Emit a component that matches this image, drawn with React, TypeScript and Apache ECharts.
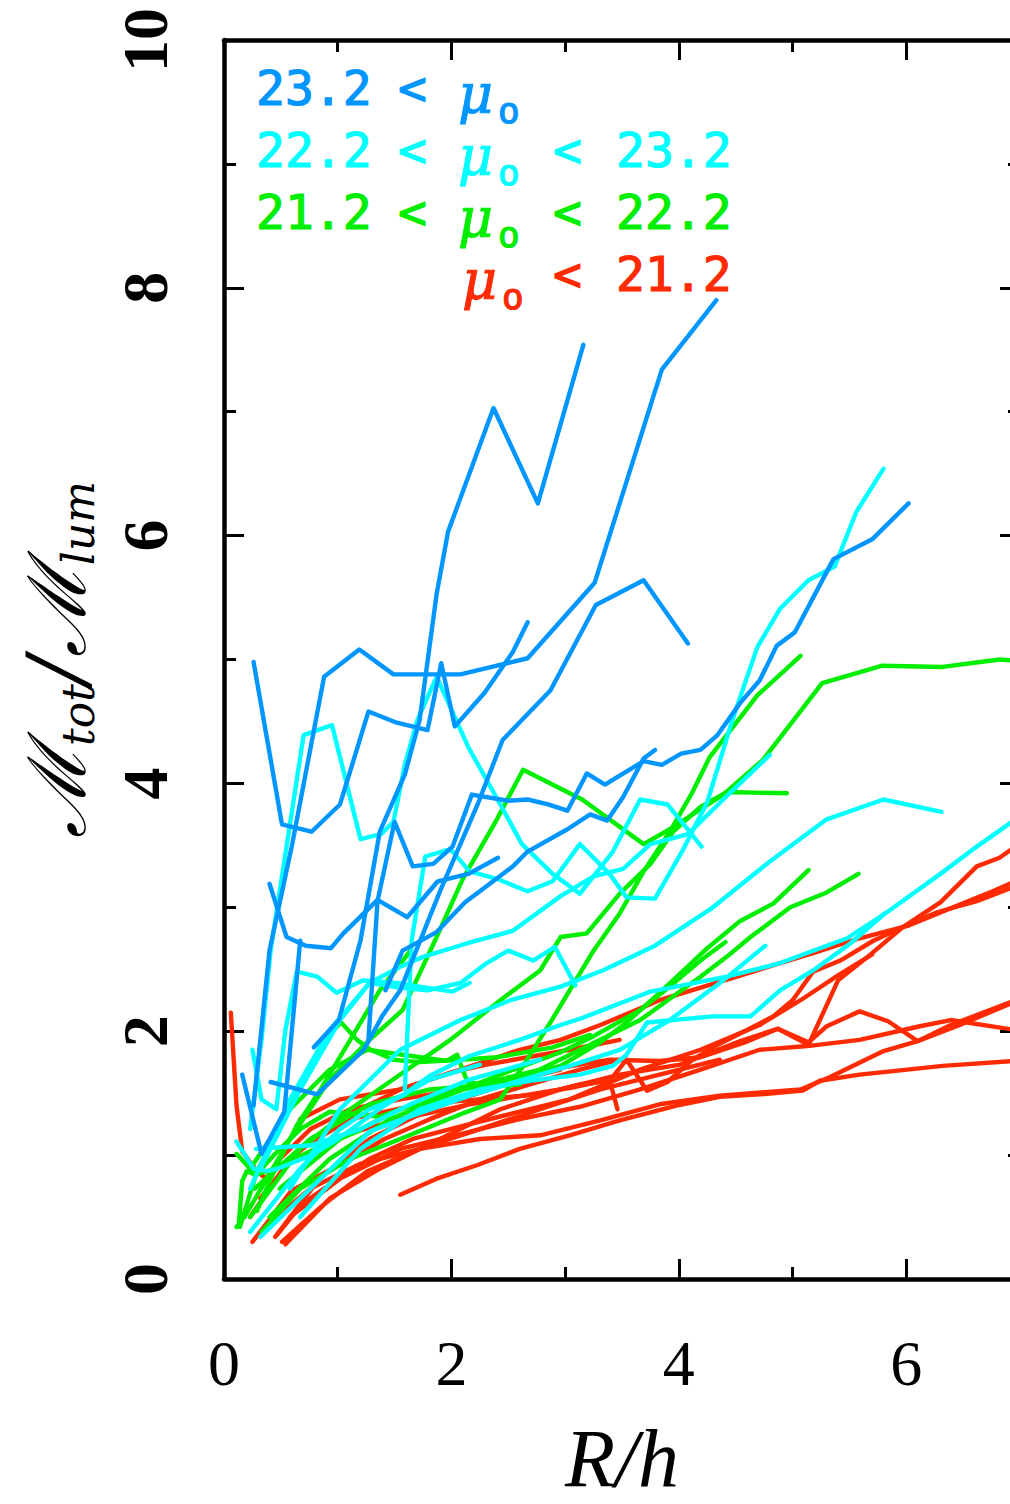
import React, { useEffect, useRef } from 'react';
import * as echarts from 'echarts';

const BLUE = '#0096ff';
const CYAN = '#00ffff';
const GREEN = '#00ee00';
const RED = '#ff2a00';

// axis ranges
const X_MIN = 0, X_MAX = 7, X_STEP = 2;
const Y_MIN = 0, Y_MAX = 10, Y_STEP = 2;

// ---------- blue: 23.2 < mu_o ----------
const b1 = [[0.26,1.40],[0.40,2.65],[0.60,3.51],[0.88,4.86],[1.19,5.08],[1.49,4.88],[2.08,4.88],[2.67,5.01],[3.26,5.62],[3.85,7.34],[4.33,7.90]];
const b2 = [[0.79,1.87],[1.01,2.09],[1.20,2.73],[1.37,3.61],[1.59,4.07],[1.72,4.51],[1.87,5.53],[1.97,6.03],[2.37,7.03],[2.76,6.26],[3.16,7.54]];
const b3 = [[0.26,4.98],[0.51,3.67],[0.77,3.61],[1.02,3.83],[1.27,4.58],[1.52,4.49],[1.79,4.43],[1.91,4.97],[2.03,4.46],[2.29,4.73],[2.54,5.06],[2.67,5.30]];
const b4 = [[0.41,1.59],[0.82,1.49],[1.23,1.85],[1.39,2.12],[1.55,2.33],[1.90,3.13],[2.23,3.83],[2.45,4.35],[2.87,4.75],[3.27,5.44],[3.69,5.64],[4.08,5.13]];
const b5 = [[1.27,1.93],[1.35,3.05],[1.50,3.69],[1.66,3.33],[1.84,3.35],[2.01,3.49],[2.18,3.91],[2.50,3.86],[2.67,3.87],[2.85,3.83],[3.02,3.78],[3.19,4.08],[3.35,3.99],[3.69,4.18],[3.85,4.15],[4.02,4.24],[4.19,4.27],[4.34,4.39],[4.54,4.65],[4.71,4.83],[4.86,5.11],[5.02,5.22],[5.36,5.81],[5.70,5.97],[6.02,6.26]];
const b6 = [[1.42,2.33],[1.57,2.65],[1.87,2.80],[2.12,3.04],[2.25,3.13],[2.54,3.33],[2.67,3.45],[3.02,3.63],[3.22,3.75],[3.37,3.70],[3.51,3.89],[3.69,4.20],[3.79,4.27]];
const b7 = [[0.40,3.19],[0.55,2.76],[0.72,2.69],[0.94,2.67],[1.05,2.79],[1.35,3.06],[1.61,2.92],[1.88,3.21],[2.15,3.27],[2.41,3.40]];
const b8 = [[0.16,1.65],[0.33,1.01],[0.53,1.35],[0.63,2.33],[0.67,2.73]];
const blueLines = [b1, b2, b3, b4, b5, b6, b7, b8];

// ---------- cyan: 22.2 < mu_o < 23.2 ----------
const c1 = [[1.59,1.53],[1.65,2.73],[1.77,3.41],[1.99,3.47],[2.16,3.29],[2.40,3.23],[2.67,3.13],[2.89,3.21],[3.13,3.51],[3.39,3.27],[3.54,3.08],[3.79,3.07],[4.04,3.47],[4.25,3.85],[4.47,4.51],[4.69,5.10],[4.89,5.41],[5.14,5.64],[5.37,5.75],[5.56,6.19],[5.80,6.54]];
const c2 = [[0.58,0.73],[1.02,1.37],[1.55,1.85],[2.08,2.09],[2.52,2.25],[2.96,2.36],[3.33,2.49],[3.79,2.69],[4.30,3.00],[4.80,3.37],[5.30,3.71],[5.80,3.87],[6.31,3.77]];
const c3 = [[0.23,0.38],[0.67,0.89],[1.02,1.21],[1.28,1.37],[1.57,1.48],[1.81,1.64],[2.16,1.80],[2.60,1.93],[2.96,2.05],[3.16,2.11],[3.75,2.32],[4.42,2.44],[4.89,2.55],[5.48,2.75],[5.83,2.96],[6.30,3.27],[6.62,3.49],[6.93,3.69]];
const c4 = [[0.67,0.50],[1.20,1.05],[1.72,1.37],[2.25,1.53],[2.69,1.60],[3.13,1.65],[3.42,1.72],[3.54,1.81],[3.72,2.07],[3.95,2.09],[4.30,2.12],[4.63,2.12],[4.89,2.33],[5.18,2.49],[5.51,2.71],[5.81,2.95]];
const c5 = [[0.32,0.34],[0.76,0.73],[1.28,1.19],[1.57,1.29],[2.16,1.48],[2.63,1.61],[3.04,1.72],[3.48,1.85],[3.92,2.09],[4.39,2.41],[4.76,2.69]];
const c6 = [[0.23,1.21],[0.33,1.93],[0.41,2.65],[0.70,4.39],[0.95,4.47],[1.20,3.55],[1.38,3.59],[1.49,3.69],[1.59,4.15],[1.70,4.51],[1.87,4.86],[2.15,4.29],[2.43,3.83],[2.62,3.51],[2.89,3.27],[3.13,3.11],[3.42,3.45],[3.66,3.87],[3.90,3.83],[4.20,3.49]];
const c7 = [[0.32,0.89],[0.67,1.53],[1.02,2.09],[1.28,2.39],[1.55,2.52],[1.75,2.60],[2.14,2.71],[2.54,2.81],[2.96,3.09],[3.25,3.25],[3.51,3.31],[3.75,3.51],[4.08,3.59],[4.39,3.87],[4.80,4.23]];
const c8 = [[0.23,0.73],[0.58,1.45],[0.93,2.01],[1.28,2.39],[1.55,2.35],[1.79,2.33],[2.08,2.39],[2.31,2.55],[2.50,2.65],[2.72,2.57],[2.91,2.68],[3.09,2.37]];
const c9 = [[0.11,1.11],[0.26,0.89],[0.38,0.87],[0.47,0.89],[0.77,1.00],[0.97,1.11],[1.41,1.40],[1.81,1.61],[2.25,1.73]];
const c10 = [[0.25,1.85],[0.33,1.45],[0.46,1.37],[0.54,2.01],[0.64,2.48],[0.82,2.44],[0.99,2.31],[1.22,2.41],[1.52,2.39],[1.72,2.36],[2.01,2.32],[2.16,2.39]];
const c11 = [[0.28,1.05],[0.77,1.08],[1.20,1.21],[1.64,1.41],[2.16,1.61],[2.78,1.77]];
const cyanLines = [c1, c2, c3, c4, c5, c6, c7, c8, c9, c10, c11];

// ---------- green: 21.2 < mu_o < 22.2 ----------
const g1 = [[0.18,0.50],[0.58,1.13],[0.93,1.61],[1.28,1.93],[1.57,2.17],[1.87,2.76],[2.10,3.23],[2.40,3.71],[2.63,4.11],[3.15,3.87],[3.69,3.51],[3.92,3.63],[4.39,3.91],[4.74,4.19],[5.26,4.81],[5.79,4.95],[6.32,4.94],[6.82,5.00],[6.96,4.99]];
const g2 = [[0.33,0.38],[0.67,0.73],[1.11,0.97],[1.55,1.13],[2.08,1.33],[2.43,1.45],[2.63,1.72],[2.87,2.07],[3.04,2.33],[3.25,2.65],[3.48,2.95],[3.69,3.29],[3.92,3.61],[4.12,3.93],[4.27,4.21],[4.69,4.71],[5.07,5.03]];
const g3 = [[0.23,0.50],[0.67,1.05],[1.11,1.37],[1.55,1.65],[1.99,1.93],[2.43,2.25],[2.78,2.49],[2.96,2.76],[3.19,2.79],[3.48,3.11],[3.75,3.35],[3.95,3.61],[4.19,3.81],[4.42,3.93],[4.95,3.92]];
const g4 = [[0.40,0.50],[0.93,0.97],[1.46,1.29],[1.99,1.49],[2.43,1.65],[2.96,1.83],[3.25,1.96],[3.66,2.17],[3.92,2.36],[4.19,2.57],[4.41,2.72]];
const g5 = [[0.27,0.73],[0.76,1.13],[1.28,1.41],[1.81,1.53],[2.34,1.57],[2.96,1.72],[3.31,1.91],[3.54,2.07],[3.83,2.31],[4.04,2.49],[4.25,2.67],[4.54,2.89],[4.83,3.03],[5.14,3.30]];
const g6 = [[0.49,0.73],[1.02,1.13],[1.55,1.37],[2.08,1.53],[2.60,1.61],[3.13,1.85],[3.66,2.09],[4.19,2.44],[4.42,2.60],[4.63,2.76],[4.98,3.00],[5.30,3.12],[5.58,3.27]];
const g7 = [[0.14,0.42],[0.29,0.87],[0.59,1.40],[0.88,1.93],[1.03,2.07],[1.17,1.93],[1.29,1.85],[1.49,1.77],[1.72,1.75],[2.08,1.77],[2.40,1.79],[2.89,1.87],[3.22,1.97]];
const g8 = [[0.23,0.89],[0.58,1.37],[0.93,1.69],[1.26,1.85],[1.57,1.81],[1.96,1.76],[2.05,1.81],[2.14,1.59],[2.34,1.56],[2.60,1.57]];
const g9 = [[0.11,0.42],[0.13,0.44],[0.16,0.79],[0.20,0.87],[0.28,0.84],[0.45,1.01],[0.67,1.21],[0.93,1.35],[1.37,1.31],[1.81,1.45],[2.25,1.57],[2.78,1.69]];
const g10 = [[0.11,1.01],[0.28,0.84],[0.44,0.89],[0.80,1.05],[1.20,1.20]];
const g11 = [[0.29,0.55],[0.44,0.87],[0.64,1.24],[0.85,1.53],[1.11,1.93],[1.37,2.33],[1.64,2.65]];
const greenLines = [g1, g2, g3, g4, g5, g6, g7, g8, g9, g10, g11];

// ---------- red: mu_o < 21.2 ----------
const r1 = [[0.06,2.15],[0.11,1.40],[0.16,1.03],[0.29,0.87],[0.37,0.81],[0.49,0.97],[0.76,1.21],[1.11,1.37],[1.55,1.45],[2.08,1.53],[2.60,1.61],[2.96,1.69]];
const r2 = [[0.45,0.34],[0.84,0.81],[1.28,1.13],[1.81,1.37],[2.34,1.53],[2.87,1.69],[3.39,1.77],[3.83,1.76],[4.19,1.79],[4.58,1.91],[4.87,2.02],[5.14,1.89],[5.40,2.41],[5.66,2.60],[5.97,2.84],[6.30,3.04],[6.62,3.33],[6.82,3.40],[6.96,3.49]];
const r3 = [[0.23,0.50],[0.58,0.97],[1.02,1.29],[1.55,1.53],[2.08,1.69],[2.60,1.85],[2.96,1.93],[3.31,2.05],[3.83,2.25],[4.51,2.44],[4.89,2.55],[5.18,2.63],[5.59,2.75],[6.01,2.85],[6.76,3.13],[6.96,3.21]];
const r4 = [[0.32,0.65],[0.67,1.05],[1.11,1.29],[1.72,1.41],[2.25,1.45],[2.78,1.49],[3.13,1.57],[3.39,1.60],[3.54,1.77],[3.72,1.52],[3.90,1.59],[4.12,1.77],[4.34,1.89],[4.60,2.01],[4.83,2.12],[5.00,2.25],[5.18,2.48],[5.42,2.57],[5.71,2.73],[5.97,2.84],[6.27,2.96],[6.62,3.05],[6.96,3.17]];
const r5 = [[1.55,0.68],[1.87,0.81],[2.23,0.92],[2.60,1.05],[3.04,1.16],[3.48,1.28],[3.98,1.40],[4.36,1.47],[4.71,1.49],[5.09,1.52],[5.24,1.60],[5.59,1.65],[6.32,1.72],[6.96,1.76]];
const r6 = [[0.36,0.42],[0.76,0.73],[1.20,0.93],[1.72,1.05],[2.25,1.13],[2.78,1.16],[3.31,1.28],[3.83,1.41],[4.36,1.48],[5.07,1.53],[5.33,1.63],[5.80,1.84],[6.10,1.92],[6.39,2.05],[6.96,2.25]];
const r7 = [[0.58,0.50],[1.02,0.81],[1.55,1.05],[2.08,1.17],[2.60,1.29],[3.13,1.39],[3.66,1.53],[4.19,1.69],[4.71,1.85],[5.13,1.88],[5.59,1.93],[6.12,2.04],[6.39,2.09],[6.96,2.01]];
const r8 = [[0.54,0.28],[0.93,0.65],[1.37,0.89],[1.90,1.13],[2.43,1.37],[2.96,1.53],[3.48,1.65],[4.01,1.73],[4.54,1.92],[4.87,2.02],[5.14,1.91],[5.30,2.04],[5.59,2.16],[5.84,2.08],[6.10,1.92],[6.47,2.05],[6.96,2.24]];
const r9 = [[0.47,0.36],[0.68,0.60],[0.88,0.73],[1.28,0.97],[1.66,1.13],[2.16,1.25],[2.60,1.35],[3.04,1.45],[3.66,1.69],[4.19,1.85],[4.71,2.05],[5.07,2.25],[5.40,2.45],[5.70,2.62]];
const r10 = [[0.51,0.30],[0.68,0.44],[0.85,0.58],[1.03,0.71],[1.26,0.87],[1.72,1.05],[2.25,1.21],[2.78,1.37],[3.31,1.53],[3.83,1.65],[4.36,1.77]];
const r11 = [[0.25,0.30],[0.59,0.71],[0.91,0.87],[1.12,0.97],[1.41,1.13],[1.81,1.29],[2.25,1.45],[2.69,1.57],[3.13,1.69],[3.48,1.77]];
const r12 = [[0.67,1.29],[1.02,1.45],[1.55,1.53],[2.01,1.67],[2.31,1.73],[3.04,1.85],[3.48,1.93]];
const r13 = [[0.93,1.13],[1.55,1.29],[2.16,1.41],[2.69,1.49],[3.09,1.55],[3.39,1.61],[3.46,1.37]];
const redLines = [r1, r2, r3, r4, r5, r6, r7, r8, r9, r10, r11, r12, r13];

// ---------- legend (text pieces) ----------
const legendNum1 = ['23.2', '22.2', '21.2', ''];
const legendNum2 = ['', '23.2', '22.2', '21.2'];
const legendLess1 = ['<', '<', '<', ''];
const legendColors = [BLUE, CYAN, GREEN, RED];

const X_NAME = 'R/h';
const Y_NAME = '{M|\u2133}{s|tot}{M|/\u2133}{s|lum}';

export default function App() {
  const ref = useRef<HTMLDivElement>(null);
  useEffect(() => {
    if (!ref.current) return;
    const chart = echarts.init(ref.current, undefined, { renderer: 'svg' });

    const groups = [
      { color: RED, lines: redLines },
      { color: GREEN, lines: greenLines },
      { color: CYAN, lines: cyanLines },
      { color: BLUE, lines: blueLines },
    ];
    const series: any[] = [];
    groups.forEach((g) => {
      g.lines.forEach((l) => {
        series.push({
          type: 'line',
          data: l,
          showSymbol: false,
          symbol: 'none',
          silent: true,
          clip: true,
          lineStyle: { color: g.color, width: 4.4, cap: 'round', join: 'round' },
          itemStyle: { color: g.color },
        });
      });
    });

    const tickCommon = {
      axisLine: { show: true, onZero: false, lineStyle: { color: '#000', width: 4.5 } },
      axisTick: { show: true, inside: true, length: 20, lineStyle: { color: '#000', width: 3 } },
      minorTick: { show: true, splitNumber: 2, length: 12, lineStyle: { color: '#000', width: 3 } },
      splitLine: { show: false },
      minorSplitLine: { show: false },
    };

    // legend graphics
    const graphics: any[] = [];
    const rowY = [88, 150, 212, 274];
    const numFont = { fontSize: 48, fontFamily: 'DejaVu Sans Mono', fontWeight: 'normal', lineWidth: 1.2 };
    rowY.forEach((y, i) => {
      const col = legendColors[i];
      const add = (text: string, x: number, yy: number, extra: any) => {
        if (!text) return;
        graphics.push({
          type: 'text', x, y: yy, silent: true,
          style: { text, fill: col, stroke: col, lineWidth: 1, verticalAlign: 'middle', textVerticalAlign: 'middle', align: 'left', textAlign: 'left', ...extra },
        });
      };
      add(legendNum1[i], 256, y, numFont);
      add(legendLess1[i], 398, y, numFont);
      const muX = i === 3 ? 462 : 458;
      add('\u03bc', muX, y + 6, { fontSize: 54, fontFamily: 'DejaVu Serif', fontStyle: 'italic', fontWeight: 'normal', lineWidth: 1 });
      add('o', muX + 40, y + 22, { fontSize: 36, fontFamily: 'DejaVu Sans Mono', fontWeight: 'normal', lineWidth: 1.2 });
      if (legendNum2[i]) {
        add('<', 553, y, numFont);
        add(legendNum2[i], 616, y, numFont);
      }
    });

    chart.setOption({
      animation: false,
      backgroundColor: '#fff',
      grid: { left: 224, right: 10, top: 40, bottom: 212, containLabel: false },
      xAxis: [
        {
          type: 'value', min: X_MIN, max: X_MAX, interval: X_STEP, position: 'bottom',
          ...tickCommon,
          axisLabel: { show: true, margin: 52, fontSize: 64, fontFamily: 'Liberation Serif', color: '#000', showMaxLabel: false, showMinLabel: true },
          name: X_NAME, nameLocation: 'middle', nameGap: 138,
          nameTextStyle: { fontSize: 82, fontFamily: 'Liberation Serif', fontStyle: 'italic', color: '#000' },
        },
        {
          type: 'value', min: X_MIN, max: X_MAX, interval: X_STEP, position: 'top',
          ...tickCommon,
          axisLabel: { show: false },
        },
      ],
      yAxis: [
        {
          type: 'value', min: Y_MIN, max: Y_MAX, interval: Y_STEP, position: 'left',
          ...tickCommon,
          axisLabel: { show: true, rotate: 90, margin: 47, fontSize: 64, fontFamily: 'Liberation Serif', fontWeight: 'bold', color: '#000' },
          name: Y_NAME, nameLocation: 'middle', nameRotate: 90, nameGap: 124,
          nameTextStyle: {
            color: '#000',
            rich: {
              M: { fontSize: 80, fontFamily: 'DejaVu Serif', fontStyle: 'italic', color: '#000', lineHeight: 86 },
              s: { fontSize: 44, fontFamily: 'DejaVu Serif', fontStyle: 'italic', color: '#000', lineHeight: 44, verticalAlign: 'bottom' },
            },
          },
        },
        {
          type: 'value', min: Y_MIN, max: Y_MAX, interval: Y_STEP, position: 'right',
          ...tickCommon,
          axisLabel: { show: false },
        },
      ],
      graphic: graphics,
      series,
    });
    return () => chart.dispose();
  }, []);
  return (
    <div style={{ position: 'absolute', left: 0, top: 0, width: 1010, height: 1504, overflow: 'hidden', background: '#fff' }}>
      <div ref={ref} style={{ width: 1030, height: 1504 }} />
    </div>
  );
}
